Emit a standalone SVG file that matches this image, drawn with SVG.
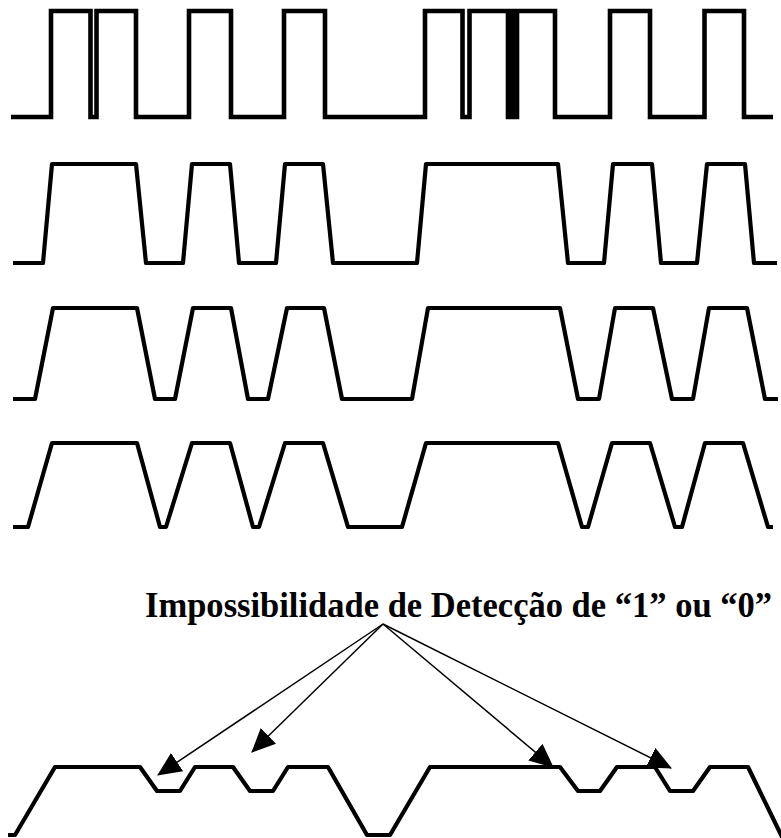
<svg xmlns="http://www.w3.org/2000/svg" width="781" height="838" viewBox="0 0 781 838">
<style>
.w{fill:none;stroke:#000;}
.sq{stroke-width:4.6;stroke-linejoin:miter;}
.tr{stroke-width:4.2;stroke-linejoin:round;}
.arr{fill:none;stroke:#000;stroke-width:1.5;marker-end:url(#ah);}
.lbl{font-family:"Liberation Serif","Times New Roman",serif;font-weight:bold;font-size:35px;fill:#000;}
</style>
<defs>
<marker id="ah" viewBox="0 0 24 22" refX="23" refY="11" markerWidth="24" markerHeight="22" markerUnits="userSpaceOnUse" orient="auto">
<path d="M0,0 L24,11 L0,22 z" fill="#000"/>
</marker>
</defs>
<rect width="781" height="838" fill="#fff"/>
<g id="wave1">
<path class="w sq" d="M11,117 H51 V11 H90.5 V117 H96.5 V11 H136 V117 H189 V11 H231 V117 H284 V11 H325 V117 H425 V11 H462.5 V117 H469.5 V11 H508 V117 H511 V11 H514 V117 H517 V11 H555 V117 H610 V11 H650 V117 H704.5 V11 H744 V117 H773"/>
</g>
<g id="wave2">
<path class="w tr" d="M13,263 H43 L52,164 H136 L146,263 H183 L192,164 H230 L239,263 H276 L285,164 H323 L333,263 H417 L426,164 H558 L568,263 H604 L613,164 H652 L661,263 H697 L707,164 H745 L754,263 H777"/>
</g>
<g id="wave3">
<path class="w tr" d="M13,399 H35 L53,308 H137 L155,399 H175 L193,308 H231 L248,399 H268 L287,308 H324 L342,399 H412 L428,308 H560 L578,399 H599 L615,308 H653 L672,399 H693 L709,308 H747 L765,399 H778"/>
</g>
<g id="wave4">
<path class="w tr" d="M13,527 H28 L52,443 H137 L160,527 H166 L192,443 H230 L253,527 H259 L285,443 H323 L348,527 H402 L426,443 H558 L582,527 H588 L612,443 H650 L675,527 H682 L705,443 H743 L768,527 H773"/>
</g>
<g id="wave5">
<path class="w tr" d="M8,835 H15 L55,767 H140 L157,791 H180 L195,767 H233 L250,791 H273 L288,767 H328 L367,835 H390 L430,767 H560 L578,791 H600 L617,767 H655 L670,791 H693 L710,767 H748 L783,839"/>
</g>
<g id="label">
<text class="lbl" x="145" y="617" textLength="627" lengthAdjust="spacingAndGlyphs">Impossibilidade de Detecção de “1” ou “0”</text>
</g>
<g id="connectors">
<line class="arr" x1="383" y1="624" x2="158" y2="775"/>
<line class="arr" x1="383" y1="624" x2="252" y2="752"/>
<line class="arr" x1="383" y1="624" x2="553" y2="767"/>
<line class="arr" x1="383" y1="624" x2="671" y2="768"/>
</g>
</svg>
